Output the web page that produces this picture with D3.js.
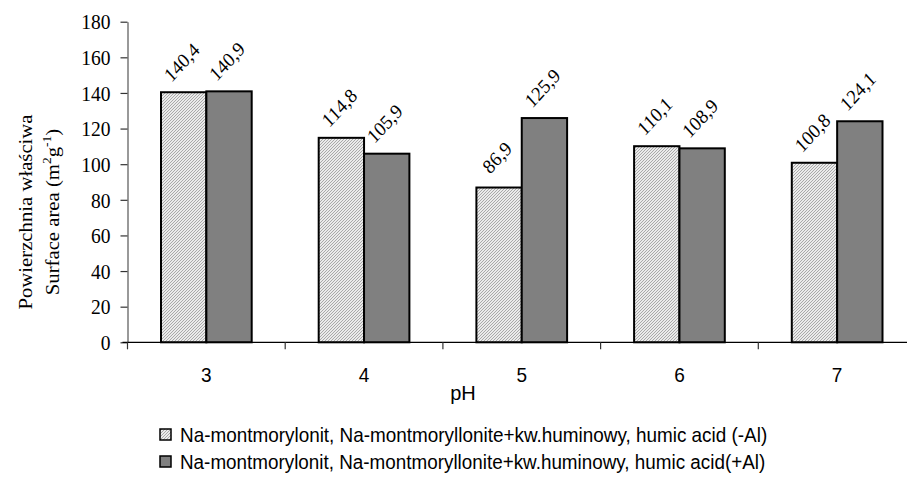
<!DOCTYPE html>
<html>
<head>
<meta charset="utf-8">
<script src="https://cdn.jsdelivr.net/npm/d3@7"></script>
<style>
  html, body { margin: 0; padding: 0; background: #fff; }
  svg { display: block; }
</style>
</head>
<body>
<svg id="chart" width="907" height="479"></svg>
<script>
const categories = ["3", "4", "5", "6", "7"];
const seriesNames = [
  "Na-montmorylonit, Na-montmoryllonite+kw.huminowy, humic acid (-Al)",
  "Na-montmorylonit, Na-montmoryllonite+kw.huminowy, humic acid(+Al)"
];
const valuesMinusAl = [140.4, 114.8, 86.9, 110.1, 100.8];
const valuesPlusAl = [140.9, 105.9, 125.9, 108.9, 124.1];
const labelsMinusAl = ["140,4", "114,8", "86,9", "110,1", "100,8"];
const labelsPlusAl = ["140,9", "105,9", "125,9", "108,9", "124,1"];
const yTicks = [0, 20, 40, 60, 80, 100, 120, 140, 160, 180];

const SY = 1.08; // vertical stretch of the text in the reference
const svg = d3.select("#chart");
const SERIF = "Liberation Serif, Times New Roman, serif";
const SANS = "Liberation Sans, Arial, sans-serif";

const defs = svg.append("defs");
const pat = defs.append("pattern")
  .attr("id", "hatch").attr("patternUnits", "userSpaceOnUse")
  .attr("width", 3).attr("height", 3);
pat.append("rect").attr("width", 3).attr("height", 3).attr("fill", "#ebebeb");
pat.append("path").attr("d", "M-1,1 l2,-2 M0,3 l3,-3 M2,4 l2,-2")
  .attr("stroke", "#a2a2a2").attr("stroke-width", 0.9);

const x0 = 127.5, y0 = 342.3, yTop = 21.7, band = 157.7;
const x = d3.scaleBand().domain(categories).range([x0, x0 + band * categories.length]).padding(0);
const y = d3.scaleLinear().domain([0, 180]).range([y0, yTop]);
const inner = d3.scaleBand().domain([0, 1]).range([33.5, 124.2]).padding(0);

const series = [
  { vals: valuesMinusAl, labels: labelsMinusAl, fill: "url(#hatch)" },
  { vals: valuesPlusAl, labels: labelsPlusAl, fill: "#808080" }
];

// bars
series.forEach((s, si) => {
  svg.append("g").selectAll("rect").data(categories).join("rect")
    .attr("x", (c) => x(c) + inner(si))
    .attr("y", (c, i) => y(s.vals[i]))
    .attr("width", inner.bandwidth())
    .attr("height", (c, i) => y0 - y(s.vals[i]))
    .attr("fill", s.fill)
    .attr("stroke", "#000").attr("stroke-width", 2);
});

// data labels
series.forEach((s, si) => {
  svg.append("g").selectAll("text").data(categories).join("text")
    .attr("transform", (c, i) => {
      const cx = x(c) + inner(si) + inner.bandwidth() / 2 - 2;
      const cy = y(s.vals[i]) - 30;
      return `translate(${cx},${cy}) scale(1,${SY}) rotate(-45)`;
    })
    .attr("text-anchor", "middle").attr("dominant-baseline", "central")
    .attr("font-family", SERIF)
    .attr("font-size", 18.5).attr("fill", "#000")
    .text((c, i) => s.labels[i]);
});

// y axis
const yAxis = svg.append("g").attr("transform", `translate(${x0},0)`)
  .call(d3.axisLeft(y).tickValues(yTicks).tickSize(7).tickSizeOuter(0).tickFormat(d3.format("d")));
yAxis.select(".domain").attr("stroke", "#777").attr("stroke-width", 1.5);
yAxis.selectAll(".tick line").attr("stroke", "#333").attr("stroke-width", 1.2);
yAxis.selectAll(".tick text")
  .attr("x", null).attr("dy", null)
  .attr("transform", `translate(-17,0) scale(1,${SY})`)
  .attr("dominant-baseline", "central")
  .attr("font-family", SERIF)
  .attr("font-size", 19.5).attr("fill", "#000");

// x axis
const xAxis = svg.append("g").attr("transform", `translate(0,${y0})`);
xAxis.append("line").attr("x1", x0 - 5).attr("x2", x0 + band * categories.length)
  .attr("stroke", "#000").attr("stroke-width", 1.3);
xAxis.selectAll("line.tk").data(categories.concat(["end"])).join("line").attr("class", "tk")
  .attr("x1", (c, i) => x0 + i * x.bandwidth()).attr("x2", (c, i) => x0 + i * x.bandwidth())
  .attr("y1", 0).attr("y2", 7).attr("stroke", "#333").attr("stroke-width", 1.2);
xAxis.selectAll("text").data(categories).join("text")
  .attr("transform", (c) => `translate(${x(c) + x.bandwidth() / 2},33) scale(1,1.03)`)
  .attr("text-anchor", "middle").attr("dominant-baseline", "central")
  .attr("font-family", SANS)
  .attr("font-size", 19).attr("fill", "#000")
  .text((c) => c);

// x title
svg.append("text")
  .attr("transform", `translate(463,393) scale(1,1.0)`)
  .attr("text-anchor", "middle").attr("dominant-baseline", "central")
  .attr("font-family", SANS)
  .attr("font-size", 20).attr("fill", "#000")
  .text("pH");

// y title
svg.append("text")
  .attr("transform", `translate(32,212) scale(1,${SY}) rotate(-90)`)
  .attr("text-anchor", "middle")
  .attr("font-family", SERIF)
  .attr("font-size", 19.2).attr("fill", "#000")
  .text("Powierzchnia właściwa");
const yt2 = svg.append("text")
  .attr("transform", `translate(59,212) scale(1,${SY}) rotate(-90)`)
  .attr("text-anchor", "middle")
  .attr("font-family", SERIF)
  .attr("font-size", 19.2).attr("fill", "#000");
yt2.append("tspan").text("Surface area  (m");
yt2.append("tspan").attr("font-size", 12.5).attr("dy", -8).text("2");
yt2.append("tspan").attr("dy", 8).text("g");
yt2.append("tspan").attr("font-size", 12.5).attr("dy", -8).text("-1");
yt2.append("tspan").attr("dy", 8).text(")");

// legend
const legY = [435, 462];
const legWidths = [587, 585];
seriesNames.forEach((name, i) => {
  svg.append("rect").attr("x", 160).attr("y", legY[i] - 6).attr("width", 11).attr("height", 11)
    .attr("fill", series[i].fill).attr("stroke", "#000").attr("stroke-width", 1.5);
  const t = svg.append("text")
    .attr("transform", `translate(180,${legY[i]}) scale(1,1.05)`)
    .attr("dominant-baseline", "central")
    .attr("font-family", SANS)
    .attr("font-size", 18).attr("fill", "#000")
    .text(name);
  const len = t.node().getComputedTextLength();
  if (len > 0) t.attr("font-size", 18 * legWidths[i] / len);
});
</script>
</body>
</html>
